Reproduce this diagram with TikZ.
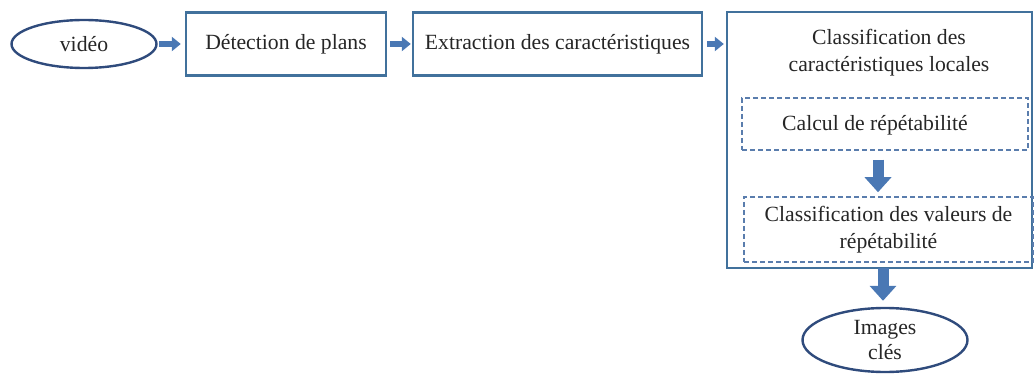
\documentclass[tikz,border=0pt]{standalone}
\usepackage{fontspec}
\setmainfont{Liberation Serif}
\usetikzlibrary{arrows.meta,shapes.geometric}
\definecolor{boxblue}{HTML}{41719C}
\definecolor{ovalblue}{HTML}{2F4B7C}
\definecolor{dashblue}{HTML}{5A7DAD}
\definecolor{arrowblue}{HTML}{4A78B4}
\begin{document}
\begin{tikzpicture}[x=1pt,y=-1pt,
  every node/.style={font=\fontsize{21.7}{27}\selectfont, text=black!85},
  stepbox/.style={draw=boxblue, line width=2.4pt, inner sep=0pt},
  oval/.style={ellipse, draw=ovalblue, line width=2.4pt, inner sep=0pt},
  dashbox/.style={draw=dashblue, dashed, dash pattern=on 5pt off 3pt, line width=1.5pt, inner sep=0pt},
  harrow/.style={draw=arrowblue, line width=5.5pt, -{Triangle[width=14pt,length=9pt]}},
  varrow/.style={draw=arrowblue, line width=11pt, -{Triangle[width=26pt,length=15pt]}}]
\useasboundingbox (0,0) rectangle (1036,374);

% top row
\node[oval, minimum width=145pt, minimum height=48pt] (video) at (84,44) {vidéo};
\node[stepbox, minimum width=200pt, minimum height=63pt] (detect) at (286,44) {Détection de plans};
\node[stepbox, minimum width=289pt, minimum height=63pt] (extract) at (557.5,44) {Extraction des caractéristiques};

% classification block
\node[stepbox, minimum width=305pt, minimum height=256pt] (classif) at (879.5,140) {};
\node[align=center] (title) at (889,53) {Classification des\\caractéristiques locales};
\node[dashbox, minimum width=286pt, minimum height=52pt] (calc) at (885,124) {};
\node (calctext) at (875,125) {Calcul de répétabilité};
\node[dashbox, minimum width=289pt, minimum height=65pt, align=center] (valeurs) at (888.5,229.5) {Classification des valeurs de\\répétabilité};

% result
\node[oval, minimum width=165pt, minimum height=64pt, align=center, font=\fontsize{21.7}{25}\selectfont] (images) at (885,340) {Images\\clés};

% vertical arrow lines
\coordinate (ax1) at (878,0);
\coordinate (ax2) at (883,0);

% connectors
\draw[harrow, shorten <=1.5pt, shorten >=4pt] (video.east) -- (detect.west);
\draw[harrow, shorten <=3pt, shorten >=1pt] (detect.east) -- (extract.west);
\draw[harrow, shorten <=4pt, shorten >=2pt] (extract.east) -- (extract.east -| classif.west);
\draw[varrow, shorten <=9pt, shorten >=4pt] (calc.south -| ax1) -- (valeurs.north -| ax1);
\draw[varrow, shorten <=-1pt, shorten >=6pt] (classif.south -| ax2) -- (images.north -| ax2);
\end{tikzpicture}
\end{document}
